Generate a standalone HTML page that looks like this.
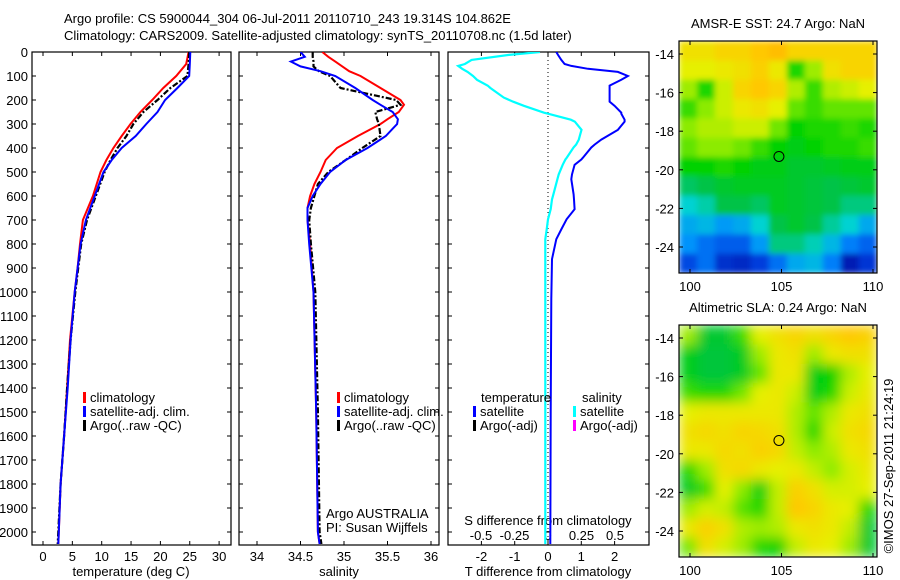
<!DOCTYPE html>
<html><head><meta charset="utf-8"><style>
body{margin:0;background:#fff}
svg{display:block}
text{font-family:"Liberation Sans",sans-serif;font-size:13px;fill:#000}
</style></head><body>
<svg id="c" width="900" height="580" viewBox="0 0 900 580">
<defs>
<clipPath id="cp1"><rect x="32" y="52" width="199" height="493"/></clipPath>
<clipPath id="cp2"><rect x="239" y="52" width="200" height="493"/></clipPath>
<clipPath id="cp3"><rect x="448" y="52" width="201" height="493"/></clipPath>
<clipPath id="cm1"><rect x="679" y="41" width="198" height="232"/></clipPath>
<clipPath id="cm2"><rect x="679" y="325" width="198" height="232"/></clipPath>
<filter id="b1" x="0" y="0" width="1" height="1"><feGaussianBlur stdDeviation="3" edgeMode="duplicate"/></filter>
<filter id="b2" x="0" y="0" width="1" height="1"><feGaussianBlur stdDeviation="6" edgeMode="duplicate"/></filter>
</defs>
<text x="64" y="23">Argo profile: CS 5900044_304 06-Jul-2011 20110710_243 19.314S 104.862E</text>
<text x="64" y="40">Climatology: CARS2009. Satellite-adjusted climatology: synTS_20110708.nc (1.5d later)</text>
<g id="g"></g>
</svg>
<script>
// ---- data ----
const depthsT = [0,50,100,150,200,250,300,350,400,450,500,600,700,800,900,1000,1200,1400,1600,1800,2000,2050];
const tempClim = [24.8,24.4,22.7,20.5,18.6,16.6,14.9,13.4,12.0,10.8,9.8,8.5,6.8,6.3,5.9,5.4,4.6,4.1,3.6,3.0,2.7,2.6];
const tempSat = [25.1,25.0,24.9,22.9,20.8,19.5,17.6,15.8,13.4,11.7,10.3,8.8,7.3,6.4,5.9,5.4,4.7,4.2,3.6,3.0,2.7,2.6];
const tempArgo = [24.9,24.8,24.6,21.7,19.5,17.1,15.4,14.2,12.7,11.5,10.5,9.0,7.5,6.5,6.0,5.5,4.7,4.1,3.6,3.0,2.6,2.5];
const depthsS = [0,20,40,60,80,100,150,200,220,250,280,300,350,400,450,500,550,600,650,700,800,1000,1500,2000,2050];
const salClim = [34.75,34.82,34.9,34.98,35.06,35.19,35.42,35.65,35.69,35.63,35.5,35.42,35.16,34.92,34.79,34.73,34.66,34.61,34.58,34.58,34.61,34.65,34.68,34.7,34.72];
const salSat = [34.5,34.55,34.39,34.5,34.73,34.9,35.13,35.33,35.42,35.56,35.62,35.61,35.48,35.27,35.02,34.84,34.73,34.64,34.58,34.58,34.6,34.65,34.68,34.7,34.72];
const salArgo = [34.64,34.64,34.65,34.65,34.71,34.84,34.96,35.6,35.65,35.36,35.38,35.4,35.42,35.21,35.02,34.82,34.7,34.66,34.62,34.6,34.62,34.67,34.7,34.72,34.74];
const depthsD = [0,12,33,50,58,70,83,100,116,140,150,190,207,224,253,257,282,290,324,365,386,398,440,448,470,510,530,593,614,655,697,739,780,863,1029,1500,2050];
const tDiffSat = [0.25,0.3,0.4,0.5,0.7,1.2,2.1,2.4,2.2,1.85,1.85,1.85,1.85,2.0,2.2,2.2,2.3,2.3,2.1,1.6,1.4,1.3,1.05,1.0,0.8,0.72,0.7,0.77,0.78,0.8,0.56,0.4,0.25,0.12,0.1,0.08,0.07];
const sDiffSat = [-0.06,-0.29,-0.57,-0.62,-0.67,-0.64,-0.6,-0.56,-0.53,-0.45,-0.43,-0.33,-0.26,-0.18,-0.03,0,0.17,0.2,0.25,0.23,0.21,0.19,0.14,0.13,0.11,0.08,0.07,0.04,0.03,0.02,0.0,-0.01,-0.02,-0.02,-0.02,-0.02,-0.02];
const depthTicks = [0,100,200,300,400,500,600,700,800,900,1000,1100,1200,1300,1400,1500,1600,1700,1800,1900,2000];
const tempTicks = [0,5,10,15,20,25,30];
const salTicks = [34,34.5,35,35.5,36];
const tdTicks = [-2,-1,0,1,2];
const sdTicks = [-0.5,-0.25,0,0.25,0.5];
const lonTicks = [100,105,110];
const latTicks = [-14,-16,-18,-20,-22,-24];
const sstGrid = [
[0.82,0.82,0.85,0.85,0.88,0.9,0.85,0.85,0.85,0.85,0.85],
[0.78,0.78,0.8,0.82,0.86,0.8,0.6,0.7,0.82,0.85,0.85],
[0.7,0.6,0.75,0.85,0.88,0.85,0.72,0.62,0.72,0.75,0.78],
[0.62,0.68,0.75,0.8,0.82,0.78,0.65,0.62,0.65,0.65,0.65],
[0.68,0.72,0.72,0.75,0.75,0.66,0.58,0.6,0.6,0.62,0.6],
[0.65,0.68,0.68,0.66,0.62,0.58,0.56,0.58,0.6,0.6,0.62],
[0.58,0.58,0.6,0.58,0.56,0.56,0.54,0.54,0.55,0.56,0.56],
[0.5,0.52,0.54,0.55,0.55,0.55,0.54,0.53,0.52,0.53,0.54],
[0.42,0.45,0.52,0.52,0.5,0.55,0.54,0.53,0.52,0.48,0.48],
[0.36,0.38,0.34,0.36,0.42,0.52,0.54,0.52,0.46,0.42,0.36],
[0.33,0.28,0.25,0.25,0.34,0.48,0.48,0.44,0.38,0.3,0.26],
[0.22,0.28,0.16,0.14,0.2,0.28,0.36,0.38,0.3,0.1,0.18]];
const slaGrid = [
[0.7,0.54,0.54,0.62,0.78,0.82,0.85,0.82,0.85,0.88,0.86],
[0.56,0.53,0.53,0.55,0.7,0.8,0.82,0.7,0.8,0.82,0.82],
[0.56,0.53,0.53,0.55,0.65,0.8,0.8,0.56,0.58,0.72,0.78],
[0.62,0.6,0.6,0.66,0.78,0.8,0.75,0.56,0.6,0.75,0.8],
[0.78,0.8,0.8,0.8,0.8,0.8,0.72,0.65,0.72,0.8,0.82],
[0.82,0.84,0.82,0.85,0.84,0.82,0.72,0.6,0.75,0.82,0.84],
[0.8,0.8,0.84,0.82,0.86,0.84,0.74,0.68,0.72,0.8,0.82],
[0.6,0.7,0.82,0.84,0.8,0.78,0.8,0.74,0.68,0.76,0.8],
[0.55,0.62,0.78,0.68,0.57,0.74,0.86,0.82,0.76,0.76,0.78],
[0.7,0.76,0.74,0.64,0.6,0.74,0.88,0.85,0.8,0.78,0.6],
[0.8,0.86,0.82,0.72,0.7,0.72,0.8,0.82,0.8,0.74,0.54],
[0.66,0.82,0.76,0.7,0.6,0.58,0.74,0.8,0.78,0.7,0.54]];
const argoLon = [104.86];
const argoLat = [-19.31];

// ---- scales ----
const yD = d => 52 + d*0.24;
const xT = t => 43 + t*5.87;
const xS = s => 257 + (s-34)*87;
const xTD = v => 548 + v*33.3;
const xSD = v => 548 + v*134;
const mLon = v => 690 + (v-100)*18.3;
const mLat1 = v => 54 + (-14 - v)*19.3;
const mLat2 = v => 338 + (-14 - v)*19.3;

const NS = 'http://www.w3.org/2000/svg';
const G = document.getElementById('g');
function mk(tag, attrs, parent){const e=document.createElementNS(NS,tag);for(const k in attrs)e.setAttribute(k,attrs[k]);(parent||G).appendChild(e);return e;}
function txt(x,y,s,anchor,parent){const e=mk('text',{x:x,y:y,'text-anchor':anchor||'start'},parent);e.textContent=s;return e;}
function line(xs, ys, color, w, dash, clip, name){
  let d='';for(let i=0;i<xs.length;i++)d+=(i?'L':'M')+xs[i].toFixed(1)+','+ys[i].toFixed(1);
  const p=mk('path',{d:d,fill:'none',stroke:color,'stroke-width':w,'clip-path':'url(#'+clip+')'});
  if(dash)p.setAttribute('stroke-dasharray',dash);
  
  
  return p;
}
function frame(x,y,w,h,name){
  const r=mk('rect',{x:x,y:y,width:w,height:h,fill:'none',stroke:'#000','stroke-width':1.2});
  
  
}
function tick(x1,y1,x2,y2){mk('line',{x1:x1,y1:y1,x2:x2,y2:y2,stroke:'#000','stroke-width':1});}

const panels=[[32,199,'temperature-panel'],[239,200,'salinity-panel'],[448,201,'difference-panel']];
panels.forEach(p=>{
  frame(p[0],52,p[1],493,p[2]);
  depthTicks.forEach(d=>{tick(p[0],yD(d),p[0]+4,yD(d));tick(p[0]+p[1],yD(d),p[0]+p[1]-4,yD(d));});
});
depthTicks.forEach(d=>{const t=txt(28,yD(d)+5,String(d),'end');
  
  });
tempTicks.forEach(v=>{tick(xT(v),545,xT(v),541);tick(xT(v),52,xT(v),56);const t=txt(xT(v),561,String(v),'middle');
  
  });
salTicks.forEach(v=>{tick(xS(v),545,xS(v),541);tick(xS(v),52,xS(v),56);const t=txt(xS(v),561,String(v),'middle');
  
  });
tdTicks.forEach(v=>{tick(xTD(v),545,xTD(v),541);tick(xTD(v),52,xTD(v),56);const t=txt(xTD(v),561,String(v),'middle');
  
  });
sdTicks.forEach(v=>{const t=txt(xSD(v),540,String(v),'middle');
  
  });
[[131,'temperature (deg C)','x-axis-title-temperature'],[339,'salinity','x-axis-title-salinity'],[548,'T difference from climatology','x-axis-title-t-diff']].forEach(a=>{
  const t=txt(a[0],576,a[1],'middle');
  
  
});
{const t=txt(548,525,'S difference from climatology','middle');
  
  }

mk('line',{x1:548,y1:52,x2:548,y2:545,stroke:'#000','stroke-width':1,'stroke-dasharray':'1,3'});

line(tempClim.map(xT), depthsT.map(yD), '#f00', 2, null, 'cp1', 'temp-climatology-line');
line(tempArgo.map(xT), depthsT.map(yD), '#000', 2.2, '6,2,2,2', 'cp1', 'temp-argo-line');
line(tempSat.map(xT), depthsT.map(yD), '#00f', 2, null, 'cp1', 'temp-satellite-line');
line(salClim.map(xS), depthsS.map(yD), '#f00', 2, null, 'cp2', 'sal-climatology-line');
line(salArgo.map(xS), depthsS.map(yD), '#000', 2.2, '6,2,2,2', 'cp2', 'sal-argo-line');
line(salSat.map(xS), depthsS.map(yD), '#00f', 2, null, 'cp2', 'sal-satellite-line');
line(tDiffSat.map(xTD), depthsD.map(yD), '#00f', 2, null, 'cp3', 't-diff-satellite-line');
line(sDiffSat.map(xSD), depthsD.map(yD), '#0ff', 2.2, null, 'cp3', 's-diff-satellite-line');

function leg(x,y,color,label){
  mk('rect',{x:x,y:y-10,width:3,height:11,fill:color});
  const t=txt(x+7,y,label);
  
  
}
leg(83,402,'#f00','climatology');leg(83,416,'#00f','satellite-adj. clim.');leg(83,430,'#000','Argo(..raw -QC)');
leg(337,402,'#f00','climatology');leg(337,416,'#00f','satellite-adj. clim.');leg(337,430,'#000','Argo(..raw -QC)');
{const t=txt(481,402,'temperature');}
{const t=txt(582,402,'salinity');}
leg(473,416,'#00f','satellite');leg(473,430,'#000','Argo(-adj)');
leg(573,416,'#0ff','satellite');leg(573,430,'#f0f','Argo(-adj)');
{const t=txt(326,518,'Argo AUSTRALIA');}
{const t=txt(326,532,'PI: Susan Wijffels');}

const stops=[[0,[0,0,140]],[0.2,[0,60,220]],[0.32,[0,140,255]],[0.42,[0,210,210]],[0.52,[0,195,70]],[0.58,[0,210,0]],[0.68,[140,235,0]],[0.78,[230,240,0]],[0.88,[255,200,0]],[1,[255,140,0]]];
function cmap(v){for(let i=1;i<stops.length;i++){if(v<=stops[i][0]){const a=stops[i-1],b=stops[i],f=(v-a[0])/(b[0]-a[0]);return 'rgb('+a[1].map((c,k)=>Math.round(c+(b[1][k]-c)*f)).join(',')+')';}}return 'rgb(255,140,0)';}

function map(grid, latF, top, clip, filt, title, titleName, mapName){
  const cg=mk('g',{'clip-path':'url(#'+clip+')'});
  const ig=mk('g',{filter:'url(#'+filt+')'},cg);
  const nr=grid.length, nc=grid[0].length, lon0=99.4, lon1=110.2, lat0=-13.33, lat1=-25.35;
  grid.forEach((row,j)=>row.forEach((v,i)=>{
    const x=mLon(lon0+(lon1-lon0)*i/nc), x2=mLon(lon0+(lon1-lon0)*(i+1)/nc);
    const y=latF(lat0+(lat1-lat0)*j/nr), y2=latF(lat0+(lat1-lat0)*(j+1)/nr);
    const r=mk('rect',{x:x,y:y,width:x2-x+0.5,height:y2-y+0.5,fill:cmap(v)},ig);
    
    
  }));
  frame(679,top,198,232,mapName);
  lonTicks.forEach(v=>{tick(mLon(v),top+232,mLon(v),top+228);tick(mLon(v),top,mLon(v),top+4);
    const t=txt(mLon(v),top+250,String(v),'middle');
    
    });
  latTicks.forEach(v=>{tick(679,latF(v),683,latF(v));tick(877,latF(v),873,latF(v));
    const t=txt(674,latF(v)+5,String(v),'end');
    
    });
  argoLon.forEach((lo,k)=>{const c=mk('circle',{cx:mLon(lo),cy:latF(argoLat[k]),r:5,fill:'none',stroke:'#000','stroke-width':1});
    
    });
  const t=txt(778,top-13,title,'middle');
  
  
}
map(sstGrid, mLat1, 41, 'cm1', 'b1', 'AMSR-E SST: 24.7 Argo: NaN', 'sst-map-title', 'sst-map');
map(slaGrid, mLat2, 325, 'cm2', 'b2', 'Altimetric SLA: 0.24 Argo: NaN', 'sla-map-title', 'sla-map');
{const t=txt(0,0,'©IMOS 27-Sep-2011 21:24:19','middle');
t.setAttribute('transform','translate(893,466) rotate(-90)');

}
</script>
</body></html>
